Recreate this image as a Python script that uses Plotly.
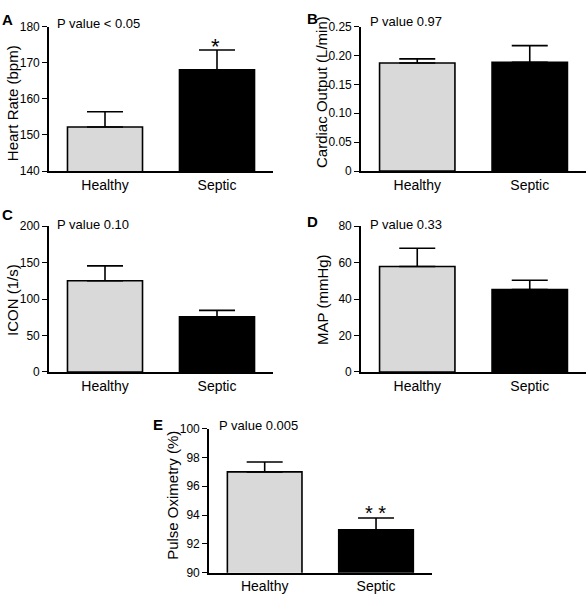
import plotly.graph_objects as go

W, H = 586, 600

groups = ["Healthy", "Septic"]
bar_colors = ["#d9d9d9", "#000000"]

hr_mean = [152.2, 168.0]
hr_upper = [156.4, 173.5]
co_mean = [0.187, 0.188]
co_upper = [0.194, 0.217]
icon_mean = [125.0, 75.5]
icon_upper = [145.5, 84.5]
map_mean = [57.8, 45.2]
map_upper = [67.8, 50.3]
spo2_mean = [97.0, 92.98]
spo2_upper = [97.68, 93.8]

panels = [
    dict(letter="A", ytitle="Heart Rate (bpm)", mean=hr_mean, upper=hr_upper,
         yr=[140, 180], tv=[140, 150, 160, 170, 180], tt=["140", "150", "160", "170", "180"],
         p="P value < 0.05", star="*"),
    dict(letter="B", ytitle="Cardiac Output (L/min)", mean=co_mean, upper=co_upper,
         yr=[0, 0.25], tv=[0, 0.05, 0.10, 0.15, 0.20, 0.25], tt=["0", "0.05", "0.10", "0.15", "0.20", "0.25"],
         p="P value 0.97", star=""),
    dict(letter="C", ytitle="ICON (1/s)", mean=icon_mean, upper=icon_upper,
         yr=[0, 200], tv=[0, 50, 100, 150, 200], tt=["0", "50", "100", "150", "200"],
         p="P value 0.10", star=""),
    dict(letter="D", ytitle="MAP (mmHg)", mean=map_mean, upper=map_upper,
         yr=[0, 80], tv=[0, 20, 40, 60, 80], tt=["0", "20", "40", "60", "80"],
         p="P value 0.33", star=""),
    dict(letter="E", ytitle="Pulse Oximetry (%)", mean=spo2_mean, upper=spo2_upper,
         yr=[90, 100], tv=[90, 92, 94, 96, 98, 100], tt=["90", "92", "94", "96", "98", "100"],
         p="P value 0.005", star="* *"),
]

# layout geometry in pixels: (x0, x1, ytop, ybottom)
geom = [
    (49, 273, 20, 168),
    (361, 586, 20, 168),
    (49, 273, 224.3, 373.7),
    (361, 586, 224.3, 373.7),
    (209, 431.7, 431.7, 579.3),
]
# label positions (pixels)
letter_pos = [(7, 12.5), (312.5, 12), (7.5, 212), (312.5, 220), (157.5, 427)]
ytitle_pos = [(12.5, 99), (322, 87), (12.5, 300.5), (322, 300), (172.5, 500)]
p_pos = [(55, 16.5), (368, 15), (55, 223), (368, 223), (216.7, 429)]
star_pos = [(215.5, 40), None, None, None, (375.5, 518.5)]
star_size = [22, 0, 0, 0, 20]

FONT = "Liberation Sans, Arial, Helvetica, sans-serif"

def px(x):
    return x / W

def py(y):
    return 1 - y / H

fig = go.Figure()
annotations = []
layout = {}

for i, (pn, g) in enumerate(zip(panels, geom)):
    n = "" if i == 0 else str(i + 1)
    xa, ya = "x" + n, "y" + n
    fig.add_trace(go.Bar(
        x=groups, y=pn["mean"], xaxis=xa, yaxis=ya, width=0.67,
        marker=dict(color=bar_colors, line=dict(color="black", width=1.6)),
        error_y=dict(type="data", symmetric=False,
                     array=[u - m for u, m in zip(pn["upper"], pn["mean"])],
                     arrayminus=[0, 0], color="black", thickness=1.6, width=18),
        showlegend=False, hoverinfo="skip",
    ))
    x0, x1, yt, yb = g
    layout["xaxis" + n] = dict(
        domain=[px(x0), px(x1)], anchor=ya, range=[-0.5, 1.5], type="category",
        showline=True, linecolor="black", linewidth=1.6, ticks="", showgrid=False,
        zeroline=False, tickfont=dict(size=14, color="black", family=FONT),
        fixedrange=True,
    )
    layout["yaxis" + n] = dict(
        domain=[py(yb), py(yt)], anchor=xa, range=pn["yr"], tickvals=pn["tv"], ticktext=pn["tt"],
        showline=True, linecolor="black", linewidth=1.6, ticks="outside", ticklen=5, tickwidth=1.4,
        tickcolor="black", showgrid=False, zeroline=False,
        tickfont=dict(size=12, color="black", family=FONT), fixedrange=True,
    )
    lx, ly = letter_pos[i]
    annotations.append(dict(text="<b>%s</b>" % pn["letter"], x=px(lx), y=py(ly), xref="paper", yref="paper",
                            xanchor="center", yanchor="middle", showarrow=False,
                            font=dict(size=15, color="black", family=FONT)))
    tx, ty = ytitle_pos[i]
    annotations.append(dict(text=pn["ytitle"], x=px(tx), y=py(ty), xref="paper", yref="paper",
                            xanchor="center", yanchor="middle", textangle=-90, showarrow=False,
                            font=dict(size=15, color="black", family=FONT)))
    ppx, ppy = p_pos[i]
    annotations.append(dict(text=pn["p"], x=px(ppx), y=py(ppy), xref="paper", yref="paper",
                            xanchor="left", yanchor="middle", showarrow=False,
                            font=dict(size=13, color="black", family=FONT)))
    if pn["star"]:
        sx, sy = star_pos[i]
        annotations.append(dict(text=pn["star"], x=px(sx), y=py(sy), xref="paper", yref="paper",
                                xanchor="center", yanchor="middle", showarrow=False,
                                font=dict(size=star_size[i], color="black", family=FONT)))

fig.update_layout(
    width=W, height=H, margin=dict(l=0, r=0, t=0, b=0),
    paper_bgcolor="white", plot_bgcolor="white",
    annotations=annotations, **layout,
)

fig.write_html("out.html", config={"displayModeBar": False},
               post_script="document.body.style.margin='0';document.body.style.overflow='hidden';")
